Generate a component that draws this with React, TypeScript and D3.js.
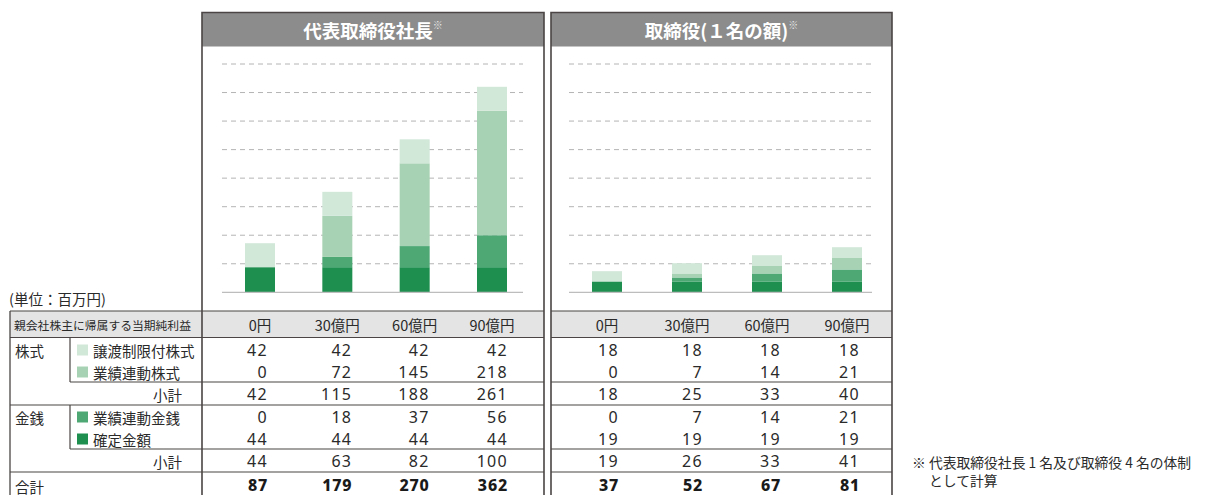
import React from 'react';
import * as d3 from 'd3';

const categories = ['0円', '30億円', '60億円', '90億円'];
const seriesKeys = ['確定金額', '業績連動金銭', '業績連動株式', '譲渡制限付株式'];
const seriesColors = ['#1f8f50', '#4ea874', '#a7d3b4', '#d1e7d8'];

// 代表取締役社長
const ceoRestricted = [42, 42, 42, 42];
const ceoPerfStock = [0, 72, 145, 218];
const ceoStockSub = [42, 115, 188, 261];
const ceoPerfCash = [0, 18, 37, 56];
const ceoFixed = [44, 44, 44, 44];
const ceoCashSub = [44, 63, 82, 100];
const ceoTotal = [87, 179, 270, 362];

// 取締役(1名の額)
const dirRestricted = [18, 18, 18, 18];
const dirPerfStock = [0, 7, 14, 21];
const dirStockSub = [18, 25, 33, 40];
const dirPerfCash = [0, 7, 14, 21];
const dirFixed = [19, 19, 19, 19];
const dirCashSub = [19, 26, 33, 41];
const dirTotal = [37, 52, 67, 81];

const yMax = 400;

const FONT = "'Noto Sans CJK JP', 'Noto Sans', sans-serif";
const NUMFONT = "'Noto Sans', 'Noto Sans CJK JP', sans-serif";
const LINE = '#4b4545';

type PanelProps = {
  x0: number; x1: number; title: string;
  cx: [number, number]; gx: [number, number];
  restricted: number[]; perfStock: number[]; stockSub: number[];
  perfCash: number[]; fixed: number[]; cashSub: number[]; total: number[];
  numOffsets: number[];
};

const yScale = d3.scaleLinear().domain([0, yMax]).range([292.3, 64]);
const ROWS = { r1: 350, r2: 372, s1: 394, r3: 417, r4: 439, s2: 461, t: 485 };

function Panel(p: PanelProps) {
  const x = d3.scalePoint<string>().domain(categories).range(p.cx);
  const rows = categories.map((c, i) => ({
    cat: c,
    '確定金額': p.fixed[i],
    '業績連動金銭': p.perfCash[i],
    '業績連動株式': p.perfStock[i],
    '譲渡制限付株式': p.restricted[i],
  }));
  const stack = d3.stack<any>().keys(seriesKeys)(rows);
  const ticks = yScale.ticks(8).filter((t) => t > 0);
  const bw = 30;
  const numRow = (vals: number[], y: number, bold = false) =>
    vals.map((v, i) => (
      <text key={i} x={(x(categories[i]) as number) + p.numOffsets[i]} y={y}
        textAnchor="end" dominantBaseline="central" fontSize={16}
        fontWeight={bold ? 800 : 400} letterSpacing={bold ? 0.8 : 1.3}
        fill={bold ? '#1a1a1a' : '#2a2a2a'} fontFamily={NUMFONT}>{v}</text>
    ));
  return (
    <g>
      {/* header */}
      <rect x={p.x0} y={12.5} width={p.x1 - p.x0} height={34} fill="#8c8c8c" />
      <text x={(p.x0 + p.x1) / 2} y={30} textAnchor="middle" dominantBaseline="central"
        fill="#fff" fontSize={18.5} fontWeight={700} fontFamily={FONT}>
        {p.title}
        <tspan fontSize={10} dy={-6} fill="#e6e6e6" fontWeight={400}>※</tspan>
      </text>
      {/* gridlines */}
      {ticks.map((t) => (
        <line key={t} x1={p.gx[0]} x2={p.gx[1]} y1={yScale(t)} y2={yScale(t)}
          stroke="#b4b4b4" strokeWidth={1} strokeDasharray="5,4" />
      ))}
      {/* bars */}
      {stack.map((s, si) => (
        <g key={s.key} fill={seriesColors[si]}>
          {s.map((d, i) => (
            d[1] - d[0] > 0 ? (
              <rect key={i} x={(x(categories[i]) as number) - bw / 2} width={bw}
                y={yScale(d[1])} height={yScale(d[0]) - yScale(d[1])} />
            ) : null
          ))}
        </g>
      ))}
      <line x1={p.gx[0]} x2={p.gx[1]} y1={yScale(0)} y2={yScale(0)} stroke="#bdbdbd" strokeWidth={1.3} />
      {/* table header band */}
      <rect x={p.x0} y={311} width={p.x1 - p.x0} height={26.5} fill="#e4e4e4" />
      {categories.map((c) => (
        <text key={c} x={x(c) as number} y={324.5} textAnchor="middle" dominantBaseline="central"
          fontSize={14.5} fill="#2a2a2a" fontFamily={FONT}>{c}</text>
      ))}
      {numRow(p.restricted, ROWS.r1)}
      {numRow(p.perfStock, ROWS.r2)}
      {numRow(p.stockSub, ROWS.s1)}
      {numRow(p.perfCash, ROWS.r3)}
      {numRow(p.fixed, ROWS.r4)}
      {numRow(p.cashSub, ROWS.s2)}
      {numRow(p.total, ROWS.t, true)}
      {/* horizontal rules */}
      {[311, 337.5, 382, 405, 449, 472].map((y) => (
        <line key={y} x1={p.x0} x2={p.x1} y1={y} y2={y} stroke={LINE} strokeWidth={1.2} />
      ))}
      {/* border */}
      <path d={`M${p.x0},495 V12.5 H${p.x1} V495`} fill="none" stroke={LINE} strokeWidth={1.6} />
    </g>
  );
}

export default function App() {
  const leftLabels: [string, number][] = [
    ['譲渡制限付株式', ROWS.r1], ['業績連動株式', ROWS.r2],
    ['業績連動金銭', ROWS.r3], ['確定金額', ROWS.r4],
  ];
  const legendColor = ['#d1e7d8', '#a7d3b4', '#4ea874', '#1f8f50'];
  return (
    <svg width={1213} height={495} style={{ position: 'absolute', left: 0, top: 0 }}
      fontFamily={FONT}>
      <rect width={1213} height={495} fill="#fff" />
      <text x={9} y={298} dominantBaseline="central" fontSize={14.5} fill="#2a2a2a">(単位：百万円)</text>
      {/* left table part */}
      <rect x={10} y={311} width={192} height={26.5} fill="#e4e4e4" />
      <text x={14} y={324.5} dominantBaseline="central" fontSize={11.8} fill="#2a2a2a">親会社株主に帰属する当期純利益</text>
      {[311, 337.5, 405, 472].map((y) => (
        <line key={y} x1={10} x2={202} y1={y} y2={y} stroke={LINE} strokeWidth={1.2} />
      ))}
      {[382, 449].map((y) => (
        <line key={y} x1={70} x2={202} y1={y} y2={y} stroke={LINE} strokeWidth={1.2} />
      ))}
      <line x1={10} x2={10} y1={311} y2={495} stroke={LINE} strokeWidth={1.3} />
      <line x1={70} x2={70} y1={337.5} y2={382} stroke={LINE} strokeWidth={1.2} />
      <line x1={70} x2={70} y1={405} y2={449} stroke={LINE} strokeWidth={1.2} />
      <text x={15} y={ROWS.r1} dominantBaseline="central" fontSize={14.5} fill="#2a2a2a">株式</text>
      <text x={15} y={ROWS.r3} dominantBaseline="central" fontSize={14.5} fill="#2a2a2a">金銭</text>
      <text x={15} y={ROWS.t + 1} dominantBaseline="central" fontSize={14.5} fill="#2a2a2a">合計</text>
      {leftLabels.map(([l, y], i) => (
        <g key={l}>
          <rect x={77} y={y - 5.5} width={11} height={11} fill={legendColor[i]} />
          <text x={93} y={y} dominantBaseline="central" fontSize={14.5} fill="#2a2a2a">{l}</text>
        </g>
      ))}
      <text x={182} y={ROWS.s1} textAnchor="end" dominantBaseline="central" fontSize={14.5} fill="#2a2a2a">小計</text>
      <text x={182} y={ROWS.s2} textAnchor="end" dominantBaseline="central" fontSize={14.5} fill="#2a2a2a">小計</text>

      <Panel x0={202} x1={544} title="代表取締役社長" cx={[260, 492]} gx={[222, 523]}
        restricted={ceoRestricted} perfStock={ceoPerfStock} stockSub={ceoStockSub}
        perfCash={ceoPerfCash} fixed={ceoFixed} cashSub={ceoCashSub} total={ceoTotal}
        numOffsets={[8, 15, 15, 16]} />
      <Panel x0={551} x1={892} title="取締役(１名の額)" cx={[607, 847]} gx={[569, 872]}
        restricted={dirRestricted} perfStock={dirPerfStock} stockSub={dirStockSub}
        perfCash={dirPerfCash} fixed={dirFixed} cashSub={dirCashSub} total={dirTotal}
        numOffsets={[12, 16, 14, 13]} />

      <text x={912} y={462} dominantBaseline="central" fontSize={13.8} fill="#2a2a2a">※ 代表取締役社長 1 名及び取締役 4 名の体制</text>
      <text x={929} y={480} dominantBaseline="central" fontSize={13.8} fill="#2a2a2a">として計算</text>
    </svg>
  );
}
